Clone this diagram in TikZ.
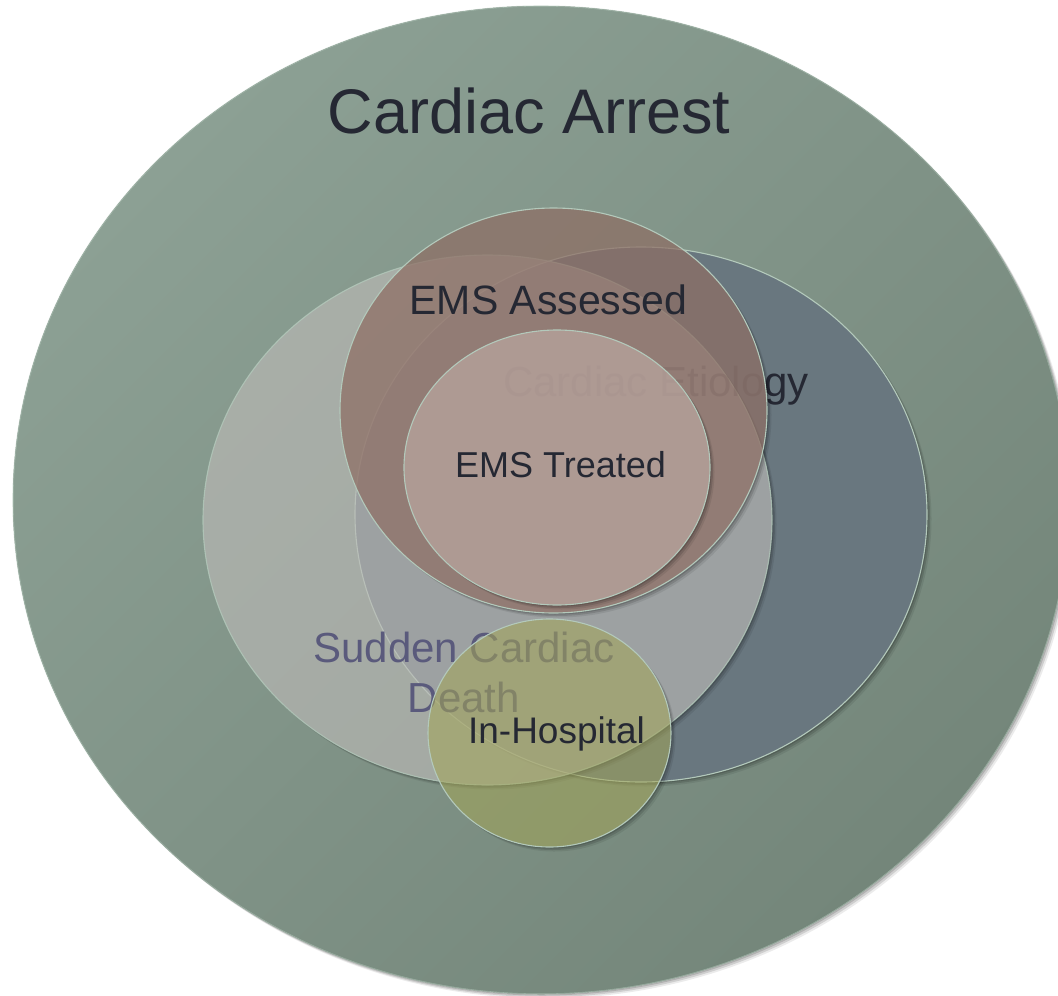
\documentclass[tikz,border=0pt]{standalone}
\usepackage{fontspec}
\setmainfont{Liberation Sans}
\definecolor{bgA}{HTML}{8CA094}
\definecolor{bgB}{HTML}{74867A}
\definecolor{ceC}{HTML}{69777F}
\definecolor{scdC}{HTML}{BCBAB7}
\definecolor{asC}{HTML}{8E6E64}
\definecolor{trC}{HTML}{C1AEA8}
\definecolor{ihC}{HTML}{A3A557}
\definecolor{rimC}{HTML}{B3C9BB}
\definecolor{txtC}{HTML}{252833}
\definecolor{scdT}{HTML}{5A5A7C}
\newcommand\vennshadow[4]{%
  \begin{scope}[even odd rule]
    \clip (-20,-20) rectangle (1100,1020) (#1,#2) ellipse [x radius=#3, y radius=#4];
    \foreach \s/\o in {1.5/0.14,3/0.12,4.5/0.08}{
      \fill[black, opacity=\o] (#1+\s,#2+\s) ellipse [x radius=#3, y radius=#4];
    }
  \end{scope}}
\tikzset{
  rim/.style={draw=rimC, line width=1.1pt},
  lbl/.style={anchor=base, inner sep=0pt, text=txtC},
  etiofont/.style={font=\fontsize{42}{50}\selectfont},
}
\begin{document}
\begin{tikzpicture}[x=1pt,y=-1pt]
\useasboundingbox (0,0) rectangle (1058,996);
\clip (0,0) rectangle (1058,996);
\fill[white] (0,0) rectangle (1058,996);

% Cardiac Arrest
\vennshadow{541}{500}{528}{494}
\fill[top color=bgA, bottom color=bgB, shading angle=45] (541,500) ellipse [x radius=528, y radius=494];
\draw[rim, draw opacity=0.6] (541,500) ellipse [x radius=528, y radius=494];
\node[lbl, font=\fontsize{63}{70}\selectfont] (arrest) at (529,133) {Cardiac Arrest};

% Cardiac Etiology
\vennshadow{641}{514.5}{286}{267.5}
\fill[ceC] (641,514.5) ellipse [x radius=286, y radius=267.5];
\draw[rim] (641,514.5) ellipse [x radius=286, y radius=267.5];

% Sudden Cardiac Death
\vennshadow{487.5}{520}{284.5}{265}
\fill[scdC, fill opacity=0.63] (487.5,520) ellipse [x radius=284.5, y radius=265];
\draw[rim, draw opacity=0.8] (487.5,520) ellipse [x radius=284.5, y radius=265];

% Cardiac Etiology label: full outside EMS Assessed, faint beneath it
\begin{scope}[even odd rule]
  \clip (-20,-20) rectangle (1100,1020) (553.5,410.5) ellipse [x radius=213.5, y radius=202.5];
  \node[lbl, etiofont] (etiology) at (656,396) {Cardiac Etiology};
\end{scope}
\begin{scope}
  \clip (553.5,410.5) ellipse [x radius=213.5, y radius=202.5];
  \node[lbl, etiofont, text opacity=0.25] (etiologyb) at (656,396) {Cardiac Etiology};
\end{scope}
\node[lbl, font=\fontsize{42}{50}\selectfont, text=scdT, align=center] (scd) at (464,712) {Sudden Cardiac\\Death};

% EMS Assessed
\vennshadow{553.5}{410.5}{213.5}{202.5}
\fill[asC, fill opacity=0.72] (553.5,410.5) ellipse [x radius=213.5, y radius=202.5];
\draw[rim] (553.5,410.5) ellipse [x radius=213.5, y radius=202.5];
\node[lbl, font=\fontsize{41}{48}\selectfont] (assessed) at (548.5,314) {EMS Assessed};

% EMS Treated
\vennshadow{557}{467.5}{153}{137.5}
\fill[trC, fill opacity=0.6] (557,467.5) ellipse [x radius=153, y radius=137.5];
\draw[rim] (557,467.5) ellipse [x radius=153, y radius=137.5];
\node[lbl, font=\fontsize{36}{42}\selectfont] (treated) at (560.5,477) {EMS Treated};

% In-Hospital
\vennshadow{549.5}{733}{121.5}{114}
\fill[ihC, fill opacity=0.55] (549.5,733) ellipse [x radius=121.5, y radius=114];
\draw[rim] (549.5,733) ellipse [x radius=121.5, y radius=114];
\node[lbl, font=\fontsize{37}{42}\selectfont] (inhosp) at (556.5,743) {In-Hospital};
\end{tikzpicture}
\end{document}
